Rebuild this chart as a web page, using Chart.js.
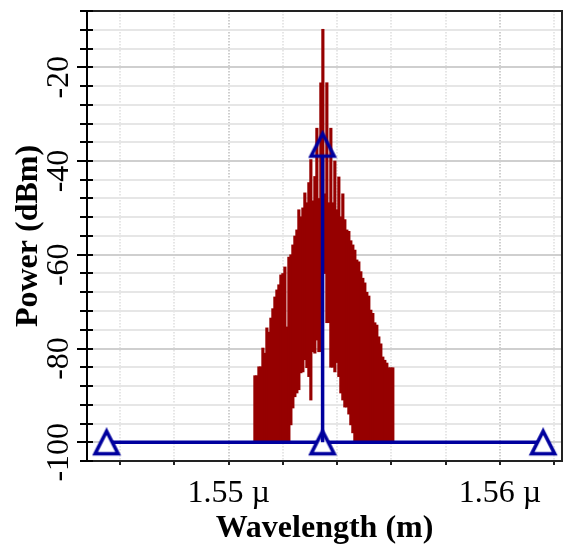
<!DOCTYPE html>
<html lang="en">
<head>
<meta charset="UTF-8">
<title>Spectrum</title>
<script src="https://cdn.jsdelivr.net/npm/chart.js"></script>
<style>
  html, body { margin: 0; padding: 0; background: #fff; }
  canvas { display: block; }
</style>
</head>
<body>
<canvas id="chart" width="565" height="551"></canvas>
<script>
// spectrum lines (wavelength in µm, power in dBm)
const wavelength = [
  1.550969, 1.551043, 1.551117, 1.551190, 1.551264, 1.551338, 1.551411, 1.551485, 1.551559, 1.551632,
  1.551706, 1.551780, 1.551853, 1.551927, 1.552001, 1.552075, 1.552148, 1.552222, 1.552296, 1.552369,
  1.552443, 1.552517, 1.552590, 1.552664, 1.552738, 1.552811, 1.552885, 1.552959, 1.553032, 1.553106,
  1.553180, 1.553254, 1.553327, 1.553401, 1.553475, 1.553548, 1.553622, 1.553696, 1.553769, 1.553843,
  1.553917, 1.553990, 1.554064, 1.554138, 1.554211, 1.554285, 1.554359, 1.554433, 1.554506, 1.554580,
  1.554654, 1.554727, 1.554801, 1.554875, 1.554948, 1.555022, 1.555096, 1.555169, 1.555243, 1.555317,
  1.555390, 1.555464, 1.555538, 1.555612, 1.555685, 1.555759, 1.555833, 1.555906, 1.555980, 1.556054
];
const peakDbm = [
  -85.8, -85.8, -83.9, -83.9, -79.9, -81.0, -75.6, -76.5, -73.5, -71.5,
  -69.0, -67.5, -66.4, -64.3, -64.0, -62.6, -75.4, -60.5, -60.0, -57.9,
  -56.0, -54.7, -50.4, -51.9, -50.0, -46.8, -48.9, -44.6, -39.7, -48.5,
  -43.3, -33.0, -48.0, -23.3, -11.9, -47.0, -23.3, -48.9, -33.0, -48.9,
  -40.0, -50.4, -43.4, -51.9, -47.0, -52.5, -54.7, -55.0, -57.0, -57.9,
  -59.0, -61.1, -61.5, -63.6, -65.0, -66.0, -68.0, -68.8, -71.8, -72.5,
  -74.5, -75.0, -77.5, -79.0, -81.8, -82.5, -83.1, -84.1, -84.1, -84.1
];
const floorDbm = [
  -100, -100, -100, -100, -100, -100, -100, -100, -100, -100,
  -100, -100, -100, -100, -100, -100, -100, -100, -96.3, -92.7,
  -90.3, -89.5, -88.8, -85.2, -85.0, -82.4, -84.1, -86.0, -91.0, -80.7,
  -81.0, -78.2, -80.7, -80.7, -64.0, -64.0, -74.5, -74.5, -84.0, -84.0,
  -85.0, -83.0, -86.0, -89.5, -91.0, -92.5, -92.5, -94.0, -96.3, -98.0,
  -100, -100, -100, -100, -100, -100, -100, -100, -100, -100,
  -100, -100, -100, -100, -100, -100, -100, -100, -100, -100
];

// markers
const markerWl = [1.545503, 1.553465, 1.561596];
const markerDbm = [-100, -100, -100];
const peakMarkerWl = 1.553465;
const peakMarkerDbm = -36.5;
const peakLineTopDbm = -39.1;

const RED = '#960000';
const BLUE = '#00009e';
const SERIF = "'Liberation Serif', 'Times New Roman', serif";

function triangleMark(fill) {
  const c = document.createElement('canvas');
  c.width = 30; c.height = 30;
  const g = c.getContext('2d');
  g.beginPath();
  g.moveTo(15, 4);
  g.lineTo(26.5, 26.5);
  g.lineTo(3.5, 26.5);
  g.closePath();
  if (fill) { g.fillStyle = fill; g.fill(); }
  g.lineWidth = 3.6;
  g.strokeStyle = BLUE;
  g.stroke();
  return c;
}

const isMult = (v, m) => Math.abs(v / m - Math.round(v / m)) < 1e-6;

// fixed axis sizes, no extra label padding
const fixSize = (w, h) => s => {
  if (w !== null) s.width = w;
  if (h !== null) s.height = h;
  s.paddingLeft = s.paddingRight = s.paddingTop = s.paddingBottom = 0;
};

// black tick marks crossing the left axis line
const leftTicks = {
  id: 'leftTicks',
  afterDraw(chart) {
    const s = chart.scales.y, ctx = chart.ctx, ax = s.right;
    ctx.save();
    ctx.strokeStyle = '#000';
    ctx.lineWidth = 2;
    s.ticks.forEach(t => {
      const py = Math.round(s.getPixelForValue(t.value));
      const major = isMult(t.value, 20);
      ctx.beginPath();
      ctx.moveTo(ax - (major ? 10 : 7), py);
      ctx.lineTo(ax + 6, py);
      ctx.stroke();
    });
    ctx.restore();
  }
};

const spectrum = wavelength.map((w, i) => ({ x: w, y: [floorDbm[i], peakDbm[i]] }));
const markers = markerWl.map((w, i) => ({ x: w, y: markerDbm[i] }));

new Chart(document.getElementById('chart'), {
  type: 'line',
  data: {
    datasets: [
      {
        type: 'bar',
        data: spectrum,
        backgroundColor: RED,
        borderWidth: 0,
        barThickness: 2.5,
        order: 4
      },
      {
        data: markers,
        borderColor: BLUE,
        borderWidth: 3.5,
        pointStyle: triangleMark('#fff'),
        pointRadius: 12,
        order: 3
      },
      {
        data: [{ x: peakMarkerWl, y: -100 }, { x: peakMarkerWl, y: peakLineTopDbm }],
        borderColor: BLUE,
        borderWidth: 3.5,
        pointRadius: 0,
        order: 2
      },
      {
        data: [{ x: peakMarkerWl, y: peakMarkerDbm }],
        showLine: false,
        pointStyle: triangleMark(null),
        pointRadius: 12,
        order: 1
      }
    ]
  },
  options: {
    responsive: false,
    animation: false,
    devicePixelRatio: 1,
    layout: { padding: 0, autoPadding: false },
    plugins: { legend: { display: false }, tooltip: { enabled: false } },
    scales: {
      x: {
        type: 'linear',
        position: 'bottom',
        min: 1.54478,
        max: 1.56229,
        offset: false,
        ticks: {
          stepSize: 0.002,
          includeBounds: false,
          autoSkip: false,
          maxRotation: 0,
          minRotation: 0,
          padding: 9,
          color: '#000',
          font: { family: SERIF, size: 32 },
          callback: v => isMult(v, 0.01) ? v.toFixed(2) + ' µ' : ''
        },
        grid: {
          offset: false,
          lineWidth: 2,
          color: c => (c.tick && isMult(c.tick.value, 0.01)) ? '#cfcfcf' : '#e6e6e6',
          tickLength: 4,
          tickWidth: 2,
          tickColor: '#222'
        },
        border: { color: '#222', width: 2, dash: [1.5, 1.5] },
        title: {
          display: true,
          text: 'Wavelength (m)',
          color: '#000',
          font: { family: SERIF, size: 32, weight: 'bold' },
          padding: { top: 0, bottom: 3 }
        },
        afterFit: fixSize(null, 90)
      },
      x2: {
        type: 'linear',
        position: 'top',
        ticks: { display: false },
        grid: { drawOnChartArea: false, drawTicks: false },
        border: { color: '#222', width: 2, dash: [1.5, 1.5] },
        afterFit: fixSize(null, 11)
      },
      y: {
        type: 'linear',
        position: 'left',
        min: -104,
        max: -8,
        ticks: {
          stepSize: 4,
          maxTicksLimit: 100,
          includeBounds: false,
          autoSkip: false,
          minRotation: 90,
          maxRotation: 90,
          crossAlign: 'center',
          labelOffset: 10,
          padding: -2,
          color: '#000',
          font: { family: SERIF, size: 32 },
          callback: v => isMult(v, 20) ? String(v) : ''
        },
        grid: {
          lineWidth: 2,
          drawTicks: false,
          color: c => (c.tick && isMult(c.tick.value, 20)) ? '#cfcfcf' : '#e6e6e6'
        },
        border: { color: '#000', width: 2 },
        title: {
          display: true,
          text: 'Power (dBm)',
          color: '#000',
          font: { family: SERIF, size: 32, weight: 'bold' },
          padding: { top: 10, bottom: 0 }
        },
        afterFit: fixSize(87, null)
      },
      y2: {
        type: 'linear',
        position: 'right',
        ticks: { display: false },
        grid: { drawOnChartArea: false, drawTicks: false },
        border: { color: '#222', width: 2, dash: [1.5, 1.5] },
        afterFit: fixSize(3, null)
      }
    }
  },
  plugins: [leftTicks]
});
</script>
</body>
</html>
